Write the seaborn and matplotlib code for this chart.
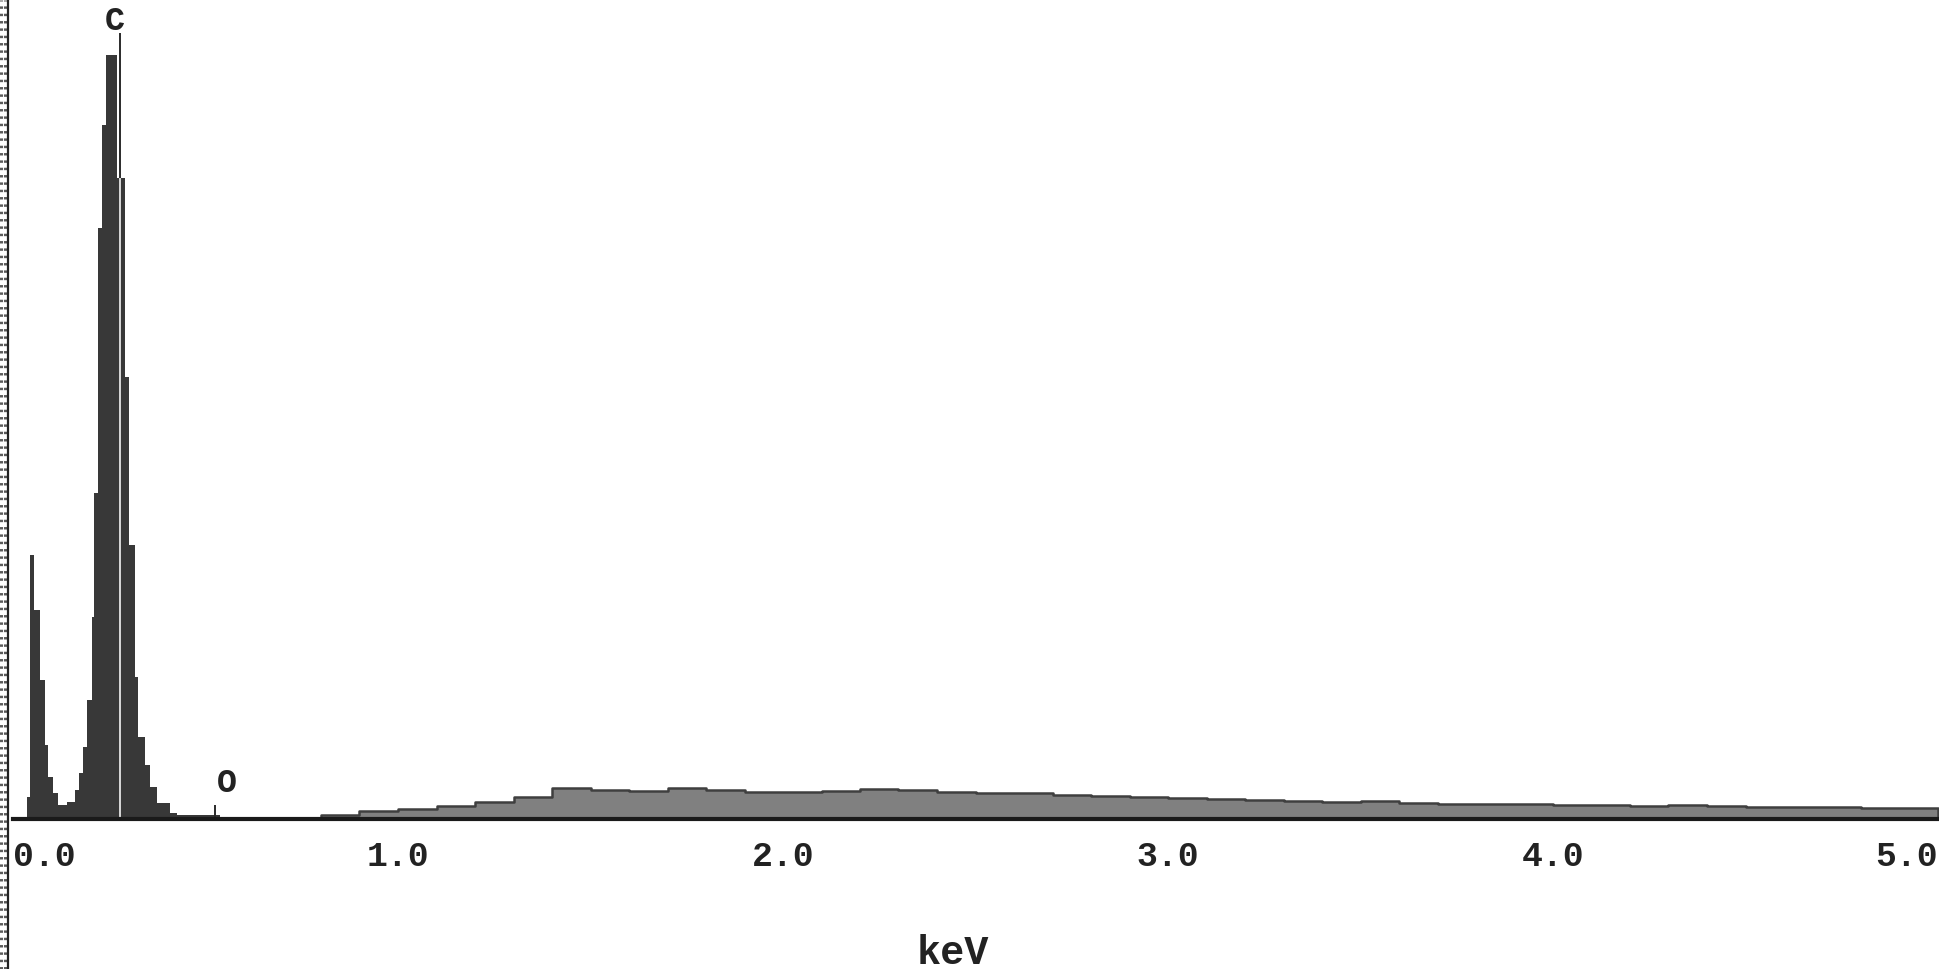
import numpy as np
import pandas as pd
import matplotlib
matplotlib.use("Agg")
import matplotlib.pyplot as plt
from matplotlib.lines import Line2D
import seaborn as sns

# ---- data (relative counts) ----
peak_edges_keV = [0.036, 0.044, 0.055, 0.070, 0.083, 0.091, 0.104, 0.117, 0.140,
                  0.161, 0.171, 0.182, 0.192, 0.205, 0.210, 0.221, 0.231, 0.242,
                  0.270, 0.291, 0.301, 0.317, 0.325, 0.343, 0.356, 0.374, 0.408,
                  0.426, 0.538, 0.800]
peak_counts = [22, 264, 209, 139, 74, 42, 26, 14, 17,
               29, 46, 72, 119, 202, 326, 591, 694, 764,
               641, 442, 274, 142, 82, 54, 32, 16, 6,
               4, 2]

cont_edges_keV = [round(0.8 + 0.1 * i, 2) for i in range(43)]
cont_counts = [4, 8, 10, 13, 17, 22, 31, 29, 28, 31,
               29, 27, 27, 28, 30, 29, 27, 26, 26, 24,
               23, 22, 21, 20, 19, 18, 17, 18, 16, 15,
               15, 15, 14, 14, 13, 14, 13, 12, 12, 12,
               11, 11]

line_labels = ["C", "O"]
line_energies = [0.277, 0.525]
line_marker_tops = [786, 14]
line_marker_fill = [641, 0]
label_heights = [797, 36]

tick_values = [0.0, 1.0, 2.0, 3.0, 4.0, 5.0]
tick_labels = ["0.0", "1.0", "2.0", "3.0", "4.0", "5.0"]
x_label = "keV"

# ---- figure ----
sns.set_style("white")
plt.rcParams['font.family'] = ['Liberation Mono', 'DejaVu Sans Mono']

W, H = 1940, 969
fig = plt.figure(figsize=(W / 100, H / 100), dpi=100)
fig.patch.set_facecolor("white")
ax = fig.add_axes([13 / W, 150 / H, 1925 / W, 819 / H])
ax.set_facecolor("white")

pe = peak_edges_keV
peak_df = pd.DataFrame({"energy": [0.5 * (a + b) for a, b in zip(pe[:-1], pe[1:])],
                        "counts": peak_counts})
sns.histplot(data=peak_df, x="energy", weights="counts", bins=list(pe),
             element="step", fill=True, color="#383838", alpha=1.0,
             linewidth=0, ax=ax)

ce = cont_edges_keV
cont_df = pd.DataFrame({"energy": [0.5 * (a + b) for a, b in zip(ce[:-1], ce[1:])],
                        "counts": cont_counts})
sns.histplot(data=cont_df, x="energy", weights="counts", bins=list(ce),
             element="step", fill=True, color="#808080", alpha=1.0,
             linewidth=1.8, edgecolor="#3f3f3f", ax=ax)

# line markers
for lab, e, top, fill_top, lh in zip(line_labels, line_energies, line_marker_tops,
                                      line_marker_fill, label_heights):
    if fill_top > 0:
        ax.vlines(e, 0, fill_top, color="#d9d9d9", linewidth=1.4, zorder=5)
        ax.vlines(e, fill_top, top, color="#2a2a2a", linewidth=1.4, zorder=5)
        ax.text(e - 0.012, lh, lab, ha="center", va="center", fontsize=24,
                fontweight="bold", color="#222222")
    else:
        ax.vlines(e, 0, top, color="#2a2a2a", linewidth=1.4, zorder=5)
        ax.text(e + 0.005, lh, lab, ha="left", va="center", fontsize=24,
                fontweight="bold", color="#222222")

ax.set_xlim(0, 5.0)
ax.set_ylim(0, 819)
ax.set_yticks([])
ax.set_ylabel("")
ax.set_xlabel("")
for s in ["top", "right", "left"]:
    ax.spines[s].set_visible(False)
ax.spines["bottom"].set_linewidth(3.0)
ax.spines["bottom"].set_color("#1a1a1a")
ax.spines["bottom"].set_zorder(6)

ax.set_xticks(tick_values)
ax.set_xticklabels(tick_labels, fontsize=25, fontweight="bold", color="#222222")
ax.tick_params(axis="x", direction="out", length=13, width=5, color="#1a1a1a", pad=2)
ax.get_xticklabels()[0].set_horizontalalignment("left")
ax.get_xticklabels()[-1].set_horizontalalignment("right")

fig.text(953 / W, 16 / H, x_label, ha="center", va="center", fontsize=29,
         fontweight="bold", color="#222222")

# left border: stippled strip and solid rule
for xs in (1.5, 5.0):
    fig.add_artist(Line2D([xs / W, xs / W], [0, 1], transform=fig.transFigure,
                          color="#5a5a5a", linewidth=2.2, linestyle=(0, (0.8, 1.6))))
fig.add_artist(Line2D([8.5 / W, 8.5 / W], [0, 1], transform=fig.transFigure,
                      color="#222222", linewidth=1.6))

fig.savefig("out.png", dpi=100, facecolor="white")
